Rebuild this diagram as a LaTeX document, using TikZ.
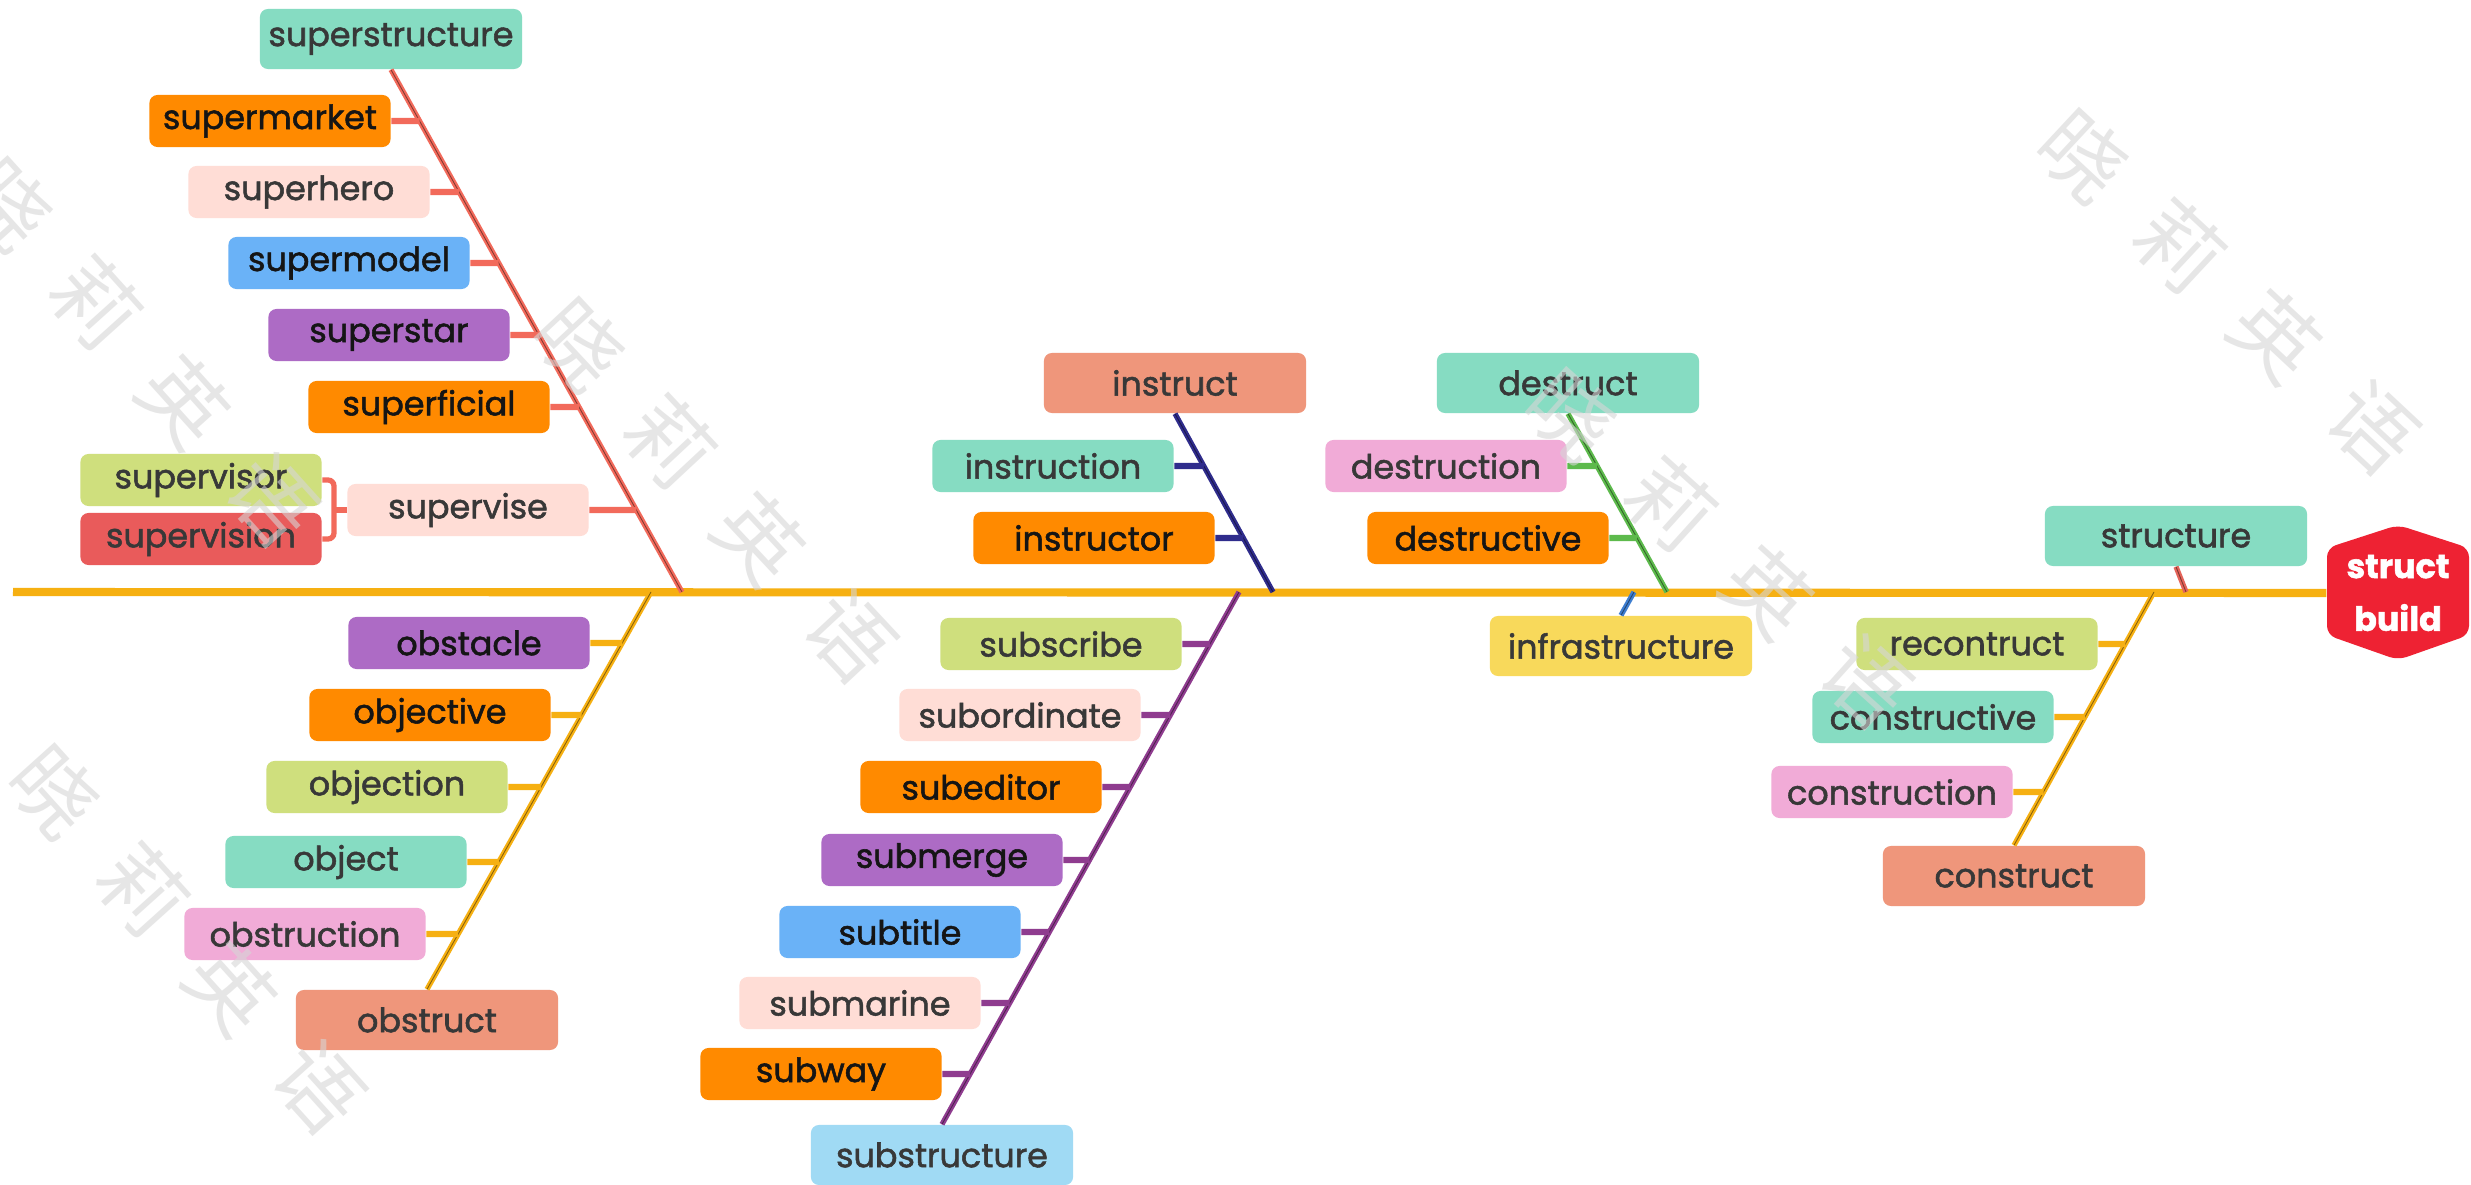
\documentclass[tikz,border=0pt]{standalone}
\usepackage{fontspec}
\setmainfont{Poppins}[FakeBold=1.6]
\newfontfamily\cjk{Noto Sans CJK SC}
\usetikzlibrary{calc}
\definecolor{mint}{HTML}{86DCC2}
\definecolor{orng}{HTML}{FF8A00}
\definecolor{peach}{HTML}{FFDDD6}
\definecolor{blu}{HTML}{6AB2F7}
\definecolor{purp}{HTML}{AD6BC5}
\definecolor{lgrn}{HTML}{CFDF7D}
\definecolor{rd}{HTML}{E95B5B}
\definecolor{salm}{HTML}{EF967B}
\definecolor{pinkb}{HTML}{F1ABD7}
\definecolor{lblu}{HTML}{A0DAF4}
\definecolor{yel}{HTML}{F8D95B}
\definecolor{hexred}{HTML}{EE2233}
\definecolor{superL}{HTML}{F26A5B}
\definecolor{obL}{HTML}{F6B012}
\definecolor{inL}{HTML}{2F2C8C}
\definecolor{subL}{HTML}{8F3C8F}
\definecolor{deL}{HTML}{5DBA4C}
\definecolor{infL}{HTML}{3E7ED0}
\definecolor{strL}{HTML}{E5645A}
\definecolor{blk}{HTML}{151515}
\definecolor{dk}{HTML}{383838}
\definecolor{wmc}{HTML}{D6D6D6}
\begin{document}
\begin{tikzpicture}[x=0.01cm,y=-0.01cm,
  wbox/.style={rounded corners=0.08cm, minimum width=2.41cm, minimum height=0.52cm,
    inner sep=0pt, font=\fontsize{9.5}{11}\selectfont, text=dk},
  bigbox/.style={wbox, minimum width=2.62cm, minimum height=0.6cm},
  diag/.style={draw=#1, line width=1.5pt, postaction={draw=#1!55!black, line width=0.25pt}},
  tick/.style={draw=#1, line width=1.8pt},
  spine/.style={draw=obL, line width=2.3pt},
  wm/.style={font=\cjk\fontsize{24}{24}\selectfont, text=wmc, opacity=0.6, inner sep=0pt}]
\useasboundingbox (0,0) rectangle (2471,1185);
\fill[white] (0,0) rectangle (2471,1185);

% ---------- spine and head
\coordinate (spL) at (13,592);
\coordinate (hc) at (2398,593);
\fill[hexred, rounded corners=0.09cm] ($(hc)+(0,-68)$) -- ($(hc)+(71,-45)$) -- ($(hc)+(71,42)$)
  -- ($(hc)+(0,67)$) -- ($(hc)+(-71,42)$) -- ($(hc)+(-71,-45)$) -- cycle;
\node[minimum width=1.42cm, minimum height=1.37cm, inner sep=0pt, align=center, text=white,
  font=\bfseries\fontsize{9.5}{15}\selectfont] (hex) at (hc) {struct\\build};
\draw[spine] (spL) -- (hex.west);

% ---------- super group
\node[bigbox, fill=mint] (sst) at (391,39) {superstructure};
\node[wbox, fill=orng, text=blk] (smk) at (270,121) {supermarket};
\node[wbox, fill=peach] (shr) at (309,192) {superhero};
\node[wbox, fill=blu, text=blk] (smd) at (349,263) {supermodel};
\node[wbox, fill=purp, text=blk] (sst2) at (389,335) {superstar};
\node[wbox, fill=orng, text=blk] (sfc) at (429,407) {superficial};
\node[wbox, fill=peach] (svs) at (468,510) {supervise};
\node[wbox, fill=lgrn] (svr) at (201,480) {supervisor};
\node[wbox, fill=rd] (svn) at (201,539) {supervision};
\coordinate (sB) at (682,592);
\draw[diag=superL] (sst.south) -- (sB);
\foreach \n in {smk,shr,smd,sst2,sfc,svs}
  \draw[tick=superL] (\n.east) -- (intersection of sst.south--sB and \n.east--\n.west);
\coordinate (bk) at (334,510);
\draw[tick=superL, line width=1.5pt] (svs.west) -- (bk);
\draw[tick=superL, line width=1.5pt, rounded corners=0.06cm] (svr.east) -| (bk) |- (svn.east);

% ---------- ob group
\node[wbox, fill=purp, text=blk] (obs) at (469,643) {obstacle};
\node[wbox, fill=orng, text=blk] (obv) at (430,715) {objective};
\node[wbox, fill=lgrn] (obn) at (387,787) {objection};
\node[wbox, fill=mint] (obj) at (346,862) {object};
\node[wbox, fill=pinkb] (obr) at (305,934) {obstruction};
\node[bigbox, fill=salm] (obt) at (427,1020) {obstruct};
\coordinate (oT) at (651,592);
\draw[diag=obL] (oT) -- (obt.north);
\foreach \n in {obs,obv,obn,obj,obr}
  \draw[tick=obL] (\n.east) -- (intersection of oT--obt.north and \n.east--\n.west);

% ---------- in group
\node[bigbox, fill=salm] (ins) at (1175,383) {instruct};
\node[wbox, fill=mint] (inn) at (1053,466) {instruction};
\node[wbox, fill=orng, text=blk] (inr) at (1094,538) {instructor};
\coordinate (iB) at (1273,592);
\draw[diag=inL] (ins.south) -- (iB);
\foreach \n in {inn,inr}
  \draw[tick=inL] (\n.east) -- (intersection of ins.south--iB and \n.east--\n.west);

% ---------- sub group
\node[wbox, fill=lgrn] (sbs) at (1061,644) {subscribe};
\node[wbox, fill=peach] (sbo) at (1020,715) {subordinate};
\node[wbox, fill=orng, text=blk] (sbe) at (981,787) {subeditor};
\node[wbox, fill=purp, text=blk] (sbm) at (942,860) {submerge};
\node[wbox, fill=blu, text=blk] (sbt) at (900,932) {subtitle};
\node[wbox, fill=peach] (sba) at (860,1003) {submarine};
\node[wbox, fill=orng, text=blk] (sbw) at (821,1074) {subway};
\node[bigbox, fill=lblu] (sbu) at (942,1155) {substructure};
\coordinate (uT) at (1239,592);
\draw[diag=subL] (uT) -- (sbu.north);
\foreach \n in {sbs,sbo,sbe,sbm,sbt,sba,sbw}
  \draw[tick=subL] (\n.east) -- (intersection of uT--sbu.north and \n.east--\n.west);

% ---------- de group
\node[bigbox, fill=mint] (dst) at (1568,383) {destruct};
\node[wbox, fill=pinkb] (dsn) at (1446,466) {destruction};
\node[wbox, fill=orng, text=blk] (dsv) at (1488,538) {destructive};
\coordinate (dB) at (1667,592);
\draw[diag=deL] (dst.south) -- (dB);
\foreach \n in {dsn,dsv}
  \draw[tick=deL] (\n.east) -- (intersection of dst.south--dB and \n.east--\n.west);

% ---------- infrastructure
\node[bigbox, fill=yel] (inf) at (1621,646) {infrastructure};
\coordinate (fT) at (1634,592);
\draw[diag=infL] (fT) -- (inf.north);

% ---------- structure / con group
\node[bigbox, fill=mint] (str) at (2176,536) {structure};
\coordinate (rB) at (2186,592);
\draw[diag=strL] (str.south) -- (rB);
\node[wbox, fill=lgrn] (crc) at (1977,644) {recontruct};
\node[wbox, fill=mint] (ctv) at (1933,717) {constructive};
\node[wbox, fill=pinkb] (ctn) at (1892,792) {construction};
\node[bigbox, fill=salm] (cst) at (2014,876) {construct};
\coordinate (cT) at (2154,592);
\draw[diag=obL] (cT) -- (cst.north);
\foreach \n in {crc,ctv,ctn}
  \draw[tick=obL] (\n.east) -- (intersection of cT--cst.north and \n.east--\n.west);

% ---------- watermark
\foreach \cx/\cy/\ang/\k in {2228/291/43/a, 140/352/48/b, 715/490/47/c, 1719/548/42/d, 187/939/48/e}{
  \node[wm, rotate=-\ang] (wm\k) at (\cx,\cy)
    {晓\hspace{0.48cm}莉\hspace{0.48cm}英\hspace{0.48cm}语};
}
\end{tikzpicture}
\end{document}
